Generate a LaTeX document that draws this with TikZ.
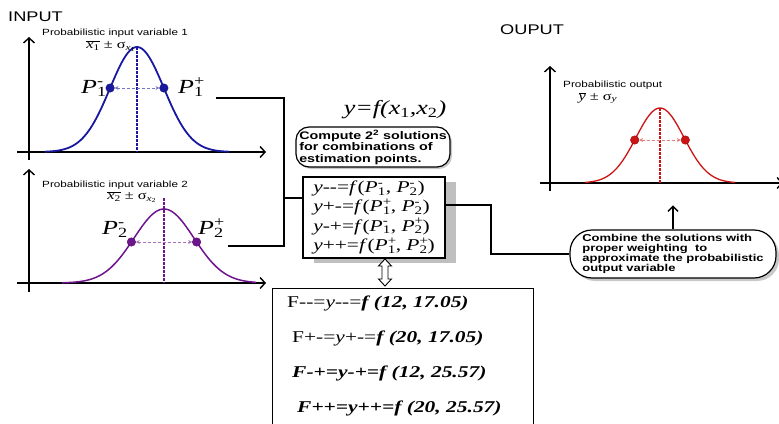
\documentclass[tikz,border=0pt]{standalone}
\usepackage{fontspec}
\usetikzlibrary{arrows.meta,shadows}
\newfontfamily\SW[FakeStretch=1.3]{Liberation Sans}
\newfontfamily\RW[FakeStretch=1.3]{Liberation Serif}
\newcommand\hy{\mbox{-}}
\newcommand\pl{\mbox{+}}
\newcommand\SSc[2]{\rlap{\textsuperscript{\upshape #2}}\textsubscript{\upshape #1}}
\definecolor{cblue}{RGB}{25,25,160}
\definecolor{cpurp}{RGB}{110,20,140}
\definecolor{cred}{RGB}{205,20,20}
\begin{document}
\begin{tikzpicture}[x=1pt,y=-1pt,
  axis/.style={line width=1.5pt,-{Straight Barb[length=5pt,width=11pt,line width=1.4pt]}},
  conn/.style={line width=1.5pt},
  ctr/.style={line width=1.5pt,dash pattern=on 2.5pt off 1.5pt},
  spread/.style={line width=1pt,dash pattern=on 3pt off 2pt,{Stealth[length=4pt,width=4pt]}-{Stealth[length=4pt,width=4pt]}},
  dot/.style={circle,fill=#1,draw=#1!70!black,inner sep=0pt,minimum size=8.5pt},
  head/.style={inner sep=0pt,anchor=west,font=\SW\fontsize{14}{16}\selectfont},
  small/.style={inner sep=0pt,anchor=west,font=\SW\fontsize{9}{10}\selectfont},
  mean/.style={inner sep=0pt,font=\RW\fontsize{12.5}{14}\selectfont},
  plab/.style={inner sep=0pt,anchor=base west,font=\RW\itshape\fontsize{20}{22}\selectfont},
  bubble/.style={draw,line width=1.2pt,fill=white,align=left,inner sep=2pt},
  fline/.style={inner sep=0pt,anchor=west,font=\RW\fontsize{16.5}{18}\selectfont}]
\useasboundingbox (0,0) rectangle (779,423);
\clip (0,0) rectangle (779,423);

% ---------- input 1 ----------
\node[head] (tin) at (8,17) {INPUT};
\draw[axis] (29,160) -- (29,37);
\draw[axis] (17,152) -- (266,152);
\draw[cblue,line width=1.8pt] plot[domain=45:229,samples=90,smooth] (\x,{152-105*exp(-((\x-137)^2)/1458)});
\draw[cblue,ctr] (137,47) -- (137,152);
\node[dot=cblue] (p1m) at (110.1,88) {};
\node[dot=cblue] (p1p) at (163.9,88) {};
\draw[cblue!60,spread] (p1m) -- (p1p);
\node[small] (t1) at (42,33) {Probabilistic input variable 1};
\node[mean] (m1) at (111,46) {$\overline{\hbox{\itshape x\textsubscript{\upshape 1}}}$ ± σ\textsubscript{\textit{x}\textsubscript{1}}};
\node[plab] (l1m) at (81,93) {P\SSc{1}{-}};
\node[plab] (l1p) at (178,93) {P\SSc{1}{+}};

% ---------- input 2 ----------
\draw[axis] (29,292) -- (29,169);
\draw[axis] (17,283) -- (266,283);
\draw[cpurp,line width=1.5pt] plot[domain=62:256,samples=90,smooth] (\x,{283-74*exp(-((\x-164)^2)/1800)});
\draw[cpurp,ctr] (164,198) -- (164,283);
\node[dot=cpurp] (p2m) at (131.4,242) {};
\node[dot=cpurp] (p2p) at (196.6,242) {};
\draw[cpurp!60,spread] (p2m) -- (p2p);
\node[small] (t2) at (42,185) {Probabilistic input variable 2};
\node[mean] (m2) at (132,197) {$\overline{\hbox{\itshape x\textsubscript{\upshape 2}}}$ ± σ\textsubscript{\textit{x}\textsubscript{2}}};
\node[plab] (l2m) at (102,234) {P\SSc{2}{-}};
\node[plab] (l2p) at (198,234) {P\SSc{2}{+}};

% ---------- centre ----------
\node[inner sep=0pt,font=\RW\itshape\fontsize{20}{22}\selectfont] (yf) at (395,110) {y=f(x\textsubscript{\upshape 1},x\textsubscript{\upshape 2})};
\node[bubble,rounded corners=13pt,minimum width=154pt,minimum height=40pt,
      font=\SW\bfseries\fontsize{11}{11.5}\selectfont,
      drop shadow={shadow xshift=2pt,shadow yshift=-2pt,fill=gray!60,opacity=0.7}] (comp) at (373,147)
  {Compute 2\textsuperscript{2} solutions\\for combinations of\\estimation points.};
\node[draw,line width=1.2pt,fill=white,minimum width=142pt,minimum height=81pt,align=left,inner sep=3pt,
      font=\RW\fontsize{16.5}{19.3}\selectfont,
      drop shadow={shadow xshift=11pt,shadow yshift=-5pt,fill=gray!50,opacity=1}] (eq) at (374,217.5)
  {\textit{y}\hy\hy=\textit{f}(\textit{P}\SSc{1}{-}, \textit{P}\SSc{2}{-})\\
   \textit{y}\pl\hy=\textit{f}(\textit{P}\SSc{1}{+}, \textit{P}\SSc{2}{-})\\
   \textit{y}\hy\pl=\textit{f}(\textit{P}\SSc{1}{-}, \textit{P}\SSc{2}{+})\\
   \textit{y}\pl\pl=\textit{f}(\textit{P}\SSc{1}{+}, \textit{P}\SSc{2}{+})};

% bottom box
\node[draw,line width=1pt,fill=white,anchor=north west,minimum width=261pt,minimum height=170pt,inner sep=0pt] (res) at (272,288) {};
\node[fline] (f1) at (287,303) {F\hy\hy=\textit{y}\hy\hy=\textbf{\textit{f (12, 17.05)}}};
\node[fline] (f2) at (292,338) {F\pl\hy=\textit{y}\pl\hy=\textbf{\textit{f (20, 17.05)}}};
\node[fline] (f3) at (292,373) {\textbf{\textit{F\hy\pl=y\hy\pl=f (12, 25.57)}}};
\node[fline] (f4) at (297,408) {\textbf{\textit{F\pl\pl=y\pl\pl=f (20, 25.57)}}};
\draw[line width=0.9pt,fill=white] (385,259) -- (391.5,266) -- (388,266) -- (388,279) -- (391.5,279) -- (385,286) -- (378.5,279) -- (382,279) -- (382,266) -- (378.5,266) -- cycle;

% connectors
\coordinate (c1a) at (216,98);
\coordinate (c1b) at (284,98);
\coordinate (c2a) at (228,246);
\coordinate (c2b) at (284,246);
\coordinate (j1) at (284,198);
\draw[conn] (c1a) -- (c1b) -- (c2b) -- (c2a);
\draw[conn] (j1) -- (j1 -| eq.west);
\coordinate (j2) at (eq.east |- 0,205);

% ---------- output ----------
\node[head] (tout) at (500,30) {OUPUT};
\draw[axis] (550,191) -- (550,66);
\draw[axis] (540,183) -- (783,183);
\draw[cred,line width=1.3pt] plot[domain=585:735,samples=90,smooth] (\x,{183-75*exp(-((\x-660)^2)/1152)});
\draw[cred,ctr] (660,108) -- (660,183);
\node[dot=cred] (pom) at (634.7,140) {};
\node[dot=cred] (pop) at (685.3,140) {};
\draw[cred!55,spread] (pom) -- (pop);
\node[small] (t3) at (563,85) {Probabilistic output};
\node[mean] (m3) at (598,98) {$\overline{\hbox{\itshape y}}$ ± σ\textsubscript{\textit{y}}};

\node[bubble,rounded corners=22pt,minimum width=206pt,minimum height=48pt,
      font=\SW\bfseries\fontsize{10}{9.8}\selectfont,
      drop shadow={shadow xshift=3pt,shadow yshift=-3pt,fill=gray!60,opacity=0.7}] (comb) at (673,254)
  {Combine the solutions with\\proper weighting\ \ to\\approximate the probabilistic\\output variable};
\draw[conn] (j2) -- (491,205) |- (comb.west);
\draw[conn,-{Straight Barb[length=5pt,width=10pt,line width=1.4pt]}] (comb.north) -- ++(0,-24);
\end{tikzpicture}
\end{document}
